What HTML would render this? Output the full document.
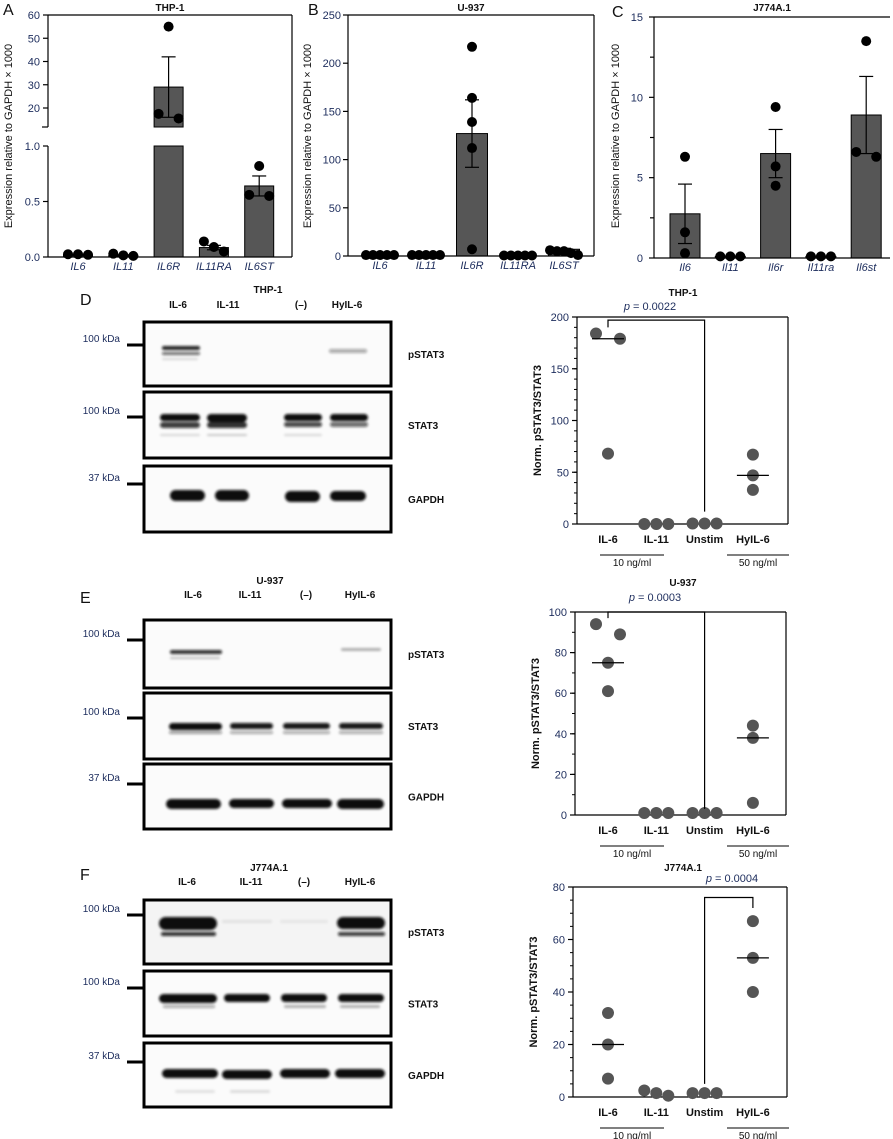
<!DOCTYPE html>
<html><head><meta charset="utf-8"><style>
html,body{margin:0;padding:0;background:#fff;}
svg{display:block;font-family:"Liberation Sans",sans-serif;}
</style></head><body>
<svg id="fig" width="893" height="1139" viewBox="0 0 893 1139" xmlns="http://www.w3.org/2000/svg">
<defs>
<filter id="blur" x="-20%" y="-100%" width="140%" height="300%"><feGaussianBlur stdDeviation="1.3"/></filter>
</defs>
</svg>
<script>
// ---------- Data: panel A (THP-1 qPCR)
const catsA = ["IL6","IL11","IL6R","IL11RA","IL6ST"];
const meanA = [0.02,0.015,29,0.085,0.64];
const semA  = [0.005,0.005,13,0.02,0.09];
const ptsA  = [[0.02,0.025,0.025],[0.01,0.03,0.015],[55,15.5,17.5],[0.05,0.14,0.09],[0.82,0.55,0.56]];
// panel B (U-937)
const catsB = ["IL6","IL11","IL6R","IL11RA","IL6ST"];
const meanB = [2,2,127,1,7];
const semB  = [0.5,0.5,35,0.3,1];
const ptsB  = [[1,1,1,1,1],[1,1,1,1,1],[217,164,139,112,7],[0.5,0.5,0.5,0.5,0.5],[5,6,5,3,1]];
const ticksB = [0,50,100,150,200,250];
// panel C (J774A.1)
const catsC = ["Il6","Il11","Il6r","Il11ra","Il6st"];
const meanC = [2.75,0.1,6.5,0.1,8.9];
const semC  = [1.85,0.02,1.5,0.02,2.4];
const ptsC  = [[6.3,1.6,0.3],[0.1,0.1,0.1],[9.4,5.7,4.5],[0.1,0.1,0.1],[13.5,6.3,6.6]];
const ticksC = [0,5,10,15];
// scatter panels
const scatCats = ["IL-6","IL-11","Unstim","HyIL-6"];
const ptsD = [[184,179,68],[0,0,0],[0.5,0.5,0.5],[67,47,33]];
const medD = [179,0,0.5,47];
const ticksD = [0,50,100,150,200];
const ptsE = [[94,89,75,61],[1,1,1],[1,1,1],[44,38,6]];
const medE = [75,null,null,38];
const ticksE = [0,20,40,60,80,100];
const ptsF = [[32,20,7],[0.5,2.5,1.5],[1.5,1.5,1.5],[67,53,40]];
const medF = [20,null,null,53];
const ticksF = [0,20,40,60,80];

const NS="http://www.w3.org/2000/svg";
const svg=document.getElementById('fig');
function el(tag,attrs,parent,text){const e=document.createElementNS(NS,tag);for(const k in attrs)e.setAttribute(k,attrs[k]);if(text!==undefined)e.textContent=text;(parent||svg).appendChild(e);return e;}
function line(x1,y1,x2,y2,w,p,c){return el('line',{x1,y1,x2,y2,stroke:c||'#000','stroke-width':w||1},p);}
function txt(x,y,s,size,opts,p){const o=Object.assign({x,y,'font-size':size,fill:'#111'},opts||{});return el('text',o,p,s);}

function offsets(vals,scale,thr,sp2,sp3){
  // cluster points closer than thr px and spread them horizontally
  const idx=vals.map((v,i)=>i).sort((a,b)=>vals[b]-vals[a]);
  const off=new Array(vals.length).fill(0);let cl=[];
  const flush=()=>{const n=cl.length;const sp=n===2?sp2:sp3;cl.forEach((k,j)=>off[k]=(j-(n-1)/2)*sp);cl=[];};
  idx.forEach(i=>{if(cl.length&&Math.abs(scale(vals[cl[cl.length-1]])-scale(vals[i]))>=thr)flush();cl.push(i);});
  flush();return off;
}

// ---------- Bar chart generic
function barChart(o){
  const g=el('g',{},svg);
  
  
  const y=o.y;
  o.cats.forEach((c,i)=>{
    const cx=o.xs(i),m=o.mean[i];
    const top=y(m);
    const r=el('rect',{x:cx-o.bw/2,y:top,width:o.bw,height:Math.max(0,o.baseFor(m)-top),fill:'#565656',stroke:'#000','stroke-width':1},g);
    
    
    if(o.extraBar) o.extraBar(g,cx,m);
    const e1=y(m+o.sem[i]),e2=y(Math.max(0,m-o.sem[i]));
    line(cx,e1,cx,e2,1.2,g);line(cx-7,e1,cx+7,e1,1.2,g);line(cx-7,e2,cx+7,e2,1.2,g);
    const off=offsets(o.pts[i],y,10,20,o.sp3||10);
    o.pts[i].forEach((v,j)=>{const p=el('circle',{cx:cx+off[j],cy:y(v),r:5,fill:'#000'},g);
      
      });
    const t=txt(cx,o.base+13,c,11,{'text-anchor':'middle','font-style':'italic',fill:'#1c2c5c'},g);
    
    
  });
  return g;
}
function xsFn(x0,step){return i=>x0+i*step;}

// ---- Panel A (broken axis)
(function(){
  const L=48,R=292,top=15,base=257;
  const yA=v=> v<=1? base-(v/1)*(base-146) : (v<11.8? 127 : 108-(v-20)*(108-15)/40);
  const g=barChart({name:'panel-a-chart',cats:catsA,mean:meanA,sem:semA,pts:ptsA,xs:xsFn(78,45.3),bw:29,y:yA,base,
    baseFor:m=> m>1? 127 : base,
    extraBar:(g,cx,m)=>{if(m>1){const r=el('rect',{x:cx-14.5,y:146,width:29,height:base-146,fill:'#565656',stroke:'#000','stroke-width':1},g);
      }}});
  // axes
  line(L,top,L,127,1.2);line(L,146,L,base,1.2);line(L,base,R,base,1.2);line(L,top,R,top,1.2);line(R,top,R,base,1.2);
  line(L-6,127,L,127,1.2);
  [20,30,40,50,60].forEach(v=>{line(L-5,yA(v),L,yA(v),1.2);txt(L-8,yA(v)+4,String(v),11,{'text-anchor':'end',fill:'#1c2c5c'});});
  [0,0.5,1].forEach(v=>{line(L-5,yA(v),L,yA(v),1.2);txt(L-8,yA(v)+4,v.toFixed(1),11,{'text-anchor':'end',fill:'#1c2c5c'});});
  const t=txt(170,11,'THP-1',10,{'text-anchor':'middle','font-weight':'bold'});
  const l=txt(3,15,'A',16,{});
  const yt=txt(0,0,'Expression relative to GAPDH × 1000',11,{'text-anchor':'middle',transform:'translate(12,136) rotate(-90)'});
  
})();

// ---- Panel B
(function(){
  const L=348,R=594,top=15,base=256;
  const yB=v=>base-v*(base-top)/250;
  barChart({name:'panel-b-chart',cats:catsB,mean:meanB,sem:semB,pts:ptsB,xs:xsFn(380,46),bw:31,y:yB,base,baseFor:()=>base,sp3:7});
  line(L,top,L,base,1.2);line(L,base,R,base,1.2);line(L,top,R,top,1.2);line(R,top,R,base,1.2);
  ticksB.forEach(v=>{line(L-5,yB(v),L,yB(v),1.2);txt(L-7,yB(v)+4,String(v),11,{'text-anchor':'end',fill:'#1c2c5c'});});
  const t=txt(471,11,'U-937',10,{'text-anchor':'middle','font-weight':'bold'});
  const l=txt(308,15,'B',16,{});
  const yt=txt(0,0,'Expression relative to GAPDH × 1000',11,{'text-anchor':'middle',transform:'translate(311,136) rotate(-90)'});
  
})();

// ---- Panel C
(function(){
  const L=654,R=890,top=17,base=258;
  const yC=v=>base-v*(base-top)/15;
  barChart({name:'panel-c-chart',cats:catsC,mean:meanC,sem:semC,pts:ptsC,xs:xsFn(685,45.3),bw:30,y:yC,base,baseFor:()=>base});
  line(L,top,L,base,1.2);line(L,base,R,base,1.2);line(L,top,R,top,1.2);
  ticksC.forEach(v=>{line(L-5,yC(v),L,yC(v),1.2);txt(L-11,yC(v)+4,String(v),11,{'text-anchor':'end',fill:'#1c2c5c'});
    if(v<15)line(L-4,yC(v+2.5),L,yC(v+2.5),1.2);});
  const t=txt(772,11,'J774A.1',10,{'text-anchor':'middle','font-weight':'bold'});
  const l=txt(612,17,'C',16,{});
  const yt=txt(0,0,'Expression relative to GAPDH × 1000',11,{'text-anchor':'middle',transform:'translate(619,136) rotate(-90)'});
  
})();

// ---------- scatter panels
function scatter(o){
  const g=el('g',{},svg);
  
  
  const L=o.L,R=o.R,top=o.top,base=o.base,max=o.ticks[o.ticks.length-1];
  const y=v=>base-v*(base-top)/max;
  const xs=i=>608+i*48.3;
  line(L,top,L,base,1.2,g);line(L,base,R,base,1.2,g);line(L,top,R,top,1.2,g);line(R,top,R,base,1.2,g);
  o.ticks.forEach(v=>{line(L-5,y(v),L,y(v),1.2,g);txt(L-8,y(v)+4,String(v),11,{'text-anchor':'end',fill:'#1c2c5c'},g);});
  for(let v=0;v<max;v+=o.minor){line(L-3,y(v),L,y(v),1,g);}
  scatCats.forEach((c,i)=>{
    const cx=xs(i);
    const off=offsets(o.pts[i],y,12,24,12);
    o.pts[i].forEach((v,j)=>{const p=el('circle',{cx:cx+off[j],cy:y(v),r:6,fill:'#555'},g);
      
      });
    if(o.med[i]!==null && o.med[i]>2){line(cx-16,y(o.med[i]),cx+16,y(o.med[i]),1.2,g);}
    const t=txt(cx,base+19,c,11,{'text-anchor':'middle','font-weight':'bold'},g);
    
    
  });
  line(600,base+31,664,base+31,1,g);line(727,base+31,789,base+31,1,g);
  txt(632,base+42,'10 ng/ml',10,{'text-anchor':'middle'},g);txt(758,base+42,'50 ng/ml',10,{'text-anchor':'middle'},g);
  // bracket
  const b=o.br;
  const a=xs(b[0]),c2=xs(b[1]);
  el('polyline',{points:`${a},${y(b[2])} ${a},${y(b[4])} ${c2},${y(b[4])} ${c2},${y(b[3])}`,fill:'none',stroke:'#000','stroke-width':1.2},g);
  const pt=el('text',{x:o.px,y:o.py,'font-size':11,fill:'#1c2c5c','text-anchor':'middle'},g);
  const pi=el('tspan',{'font-style':'italic'},pt,'p');el('tspan',{},pt,' = '+o.p);
  
  const tt=txt(683,o.ty,o.title,10,{'text-anchor':'middle','font-weight':'bold'},g);
  
  const yt=txt(0,0,'Norm. pSTAT3/STAT3',11,{'text-anchor':'middle','font-weight':'bold',transform:`translate(${L-36},${(top+base)/2}) rotate(-90)`},g);
  
}
scatter({name:'panel-d-scatter',pts:ptsD,med:medD,ticks:ticksD,minor:10,L:577,R:788,top:317,base:524,br:[0,2,190,12,197],p:'0.0022',px:650,py:310,title:'THP-1',ty:296});
scatter({name:'panel-e-scatter',pts:ptsE,med:medE,ticks:ticksE,minor:10,L:575,R:786,top:612,base:815,br:[0,2,97,3,100],p:'0.0003',px:655,py:601,title:'U-937',ty:586});
scatter({name:'panel-f-scatter',pts:ptsF,med:medF,ticks:ticksF,minor:5,L:573,R:787,top:887,base:1097,br:[2,3,5,72,76],p:'0.0004',px:732,py:882,title:'J774A.1',ty:871});

// ---------- Western blots
function blot(o){
  const g=el('g',{},svg);
  
  
  const lt=txt(80,o.letterY,o.letter,16,{},g);
  
  const tt=txt(o.titleX,o.titleY,o.title,10,{'text-anchor':'middle','font-weight':'bold'},g);
  
  o.lanes.forEach(ln=>{const t=txt(ln[1],ln[2],ln[0],10,{'text-anchor':'middle','font-weight':'bold'},g);
    });
  o.boxes.forEach(bx=>{
    const r=el('rect',{x:144,y:bx.y,width:247,height:bx.h,fill:bx.bg||'#fbfbfb',stroke:'#000','stroke-width':3},g);
    
    const bg=el('g',{filter:'url(#blur)'},g);
    bx.bands.forEach(b=>{el('rect',{x:b[0],y:b[1],width:b[2],height:b[3],rx:b[3]/2,fill:'#111',opacity:b[4]},bg);});
    line(127,bx.tick,143,bx.tick,3,g);
    txt(120,bx.tick-3,bx.kda,10,{'text-anchor':'end',fill:'#1c2c5c'},g);
    const lb=txt(408,bx.y+bx.h/2+4,bx.label,10,{'font-weight':'bold'},g);
    
  });
}
blot({name:'panel-d-blot',letter:'D',letterY:305,title:'THP-1',titleX:268,titleY:293,
  lanes:[['IL-6',178,308],['IL-11',228,308],['(–)',301,308],['HyIL-6',347,308]],
  boxes:[
   {y:322,h:64,label:'pSTAT3',kda:'100 kDa',tick:345,bands:[[162,346,38,4,0.9],[162,352,38,3,0.6],[162,358,36,2,0.15],[329,349,38,4,0.35]]},
   {y:392,h:66,label:'STAT3',kda:'100 kDa',tick:417,bands:[[160,414,40,7,1],[160,422,40,6,0.8],[207,414,40,8,1],[207,422,40,6,0.85],[284,414,38,7,1],[284,422,38,5,0.75],[330,414,38,7,1],[330,422,38,5,0.6],[160,434,40,2,0.15],[207,434,40,2,0.2],[284,434,38,2,0.15]]},
   {y:466,h:66,label:'GAPDH',kda:'37 kDa',tick:484,bands:[[170,490,35,11,1],[215,490,34,11,1],[285,491,35,11,1],[330,491,36,10,1]]}
  ]});
blot({name:'panel-e-blot',letter:'E',letterY:603,title:'U-937',titleX:270,titleY:584,
  lanes:[['IL-6',193,598],['IL-11',250,598],['(–)',306,598],['HyIL-6',360,598]],
  boxes:[
   {y:620,h:68,label:'pSTAT3',kda:'100 kDa',tick:640,bands:[[170,650,52,4,0.85],[170,657,50,2,0.25],[341,648,40,3,0.3]]},
   {y:693,h:66,label:'STAT3',kda:'100 kDa',tick:718,bands:[[169,723,53,7,1],[169,731,53,3,0.4],[230,723,43,6,0.95],[283,723,47,6,0.95],[339,723,44,6,0.95],[230,731,43,3,0.35],[283,731,47,3,0.35],[339,731,44,3,0.35]]},
   {y:764,h:65,label:'GAPDH',kda:'37 kDa',tick:784,bands:[[166,799,55,10,1],[229,799,45,9,1],[282,799,50,9,1],[337,799,47,10,1]]}
  ]});
blot({name:'panel-f-blot',letter:'F',letterY:880,title:'J774A.1',titleX:269,titleY:871,
  lanes:[['IL-6',187,885],['IL-11',251,885],['(–)',304,885],['HyIL-6',360,885]],
  boxes:[
   {y:900,h:64,label:'pSTAT3',kda:'100 kDa',tick:915,bands:[[159,917,58,13,1],[161,932,55,4,0.85],[337,917,48,12,1],[338,932,47,4,0.8],[222,920,50,3,0.08],[280,920,48,3,0.06]],bg:'#f4f4f4'},
   {y:971,h:65,label:'STAT3',kda:'100 kDa',tick:988,bands:[[159,994,58,9,1],[224,994,46,8,1],[281,994,46,8,1],[338,994,46,8,1],[163,1005,52,3,0.35],[284,1005,42,3,0.3],[340,1005,40,3,0.3]]},
   {y:1043,h:64,label:'GAPDH',kda:'37 kDa',tick:1062,bands:[[162,1069,56,9,1],[222,1070,50,9,1],[280,1069,50,9,1],[335,1069,50,9,1],[175,1090,40,3,0.1],[230,1090,40,3,0.12]]}
  ]});
</script>
</body></html>
